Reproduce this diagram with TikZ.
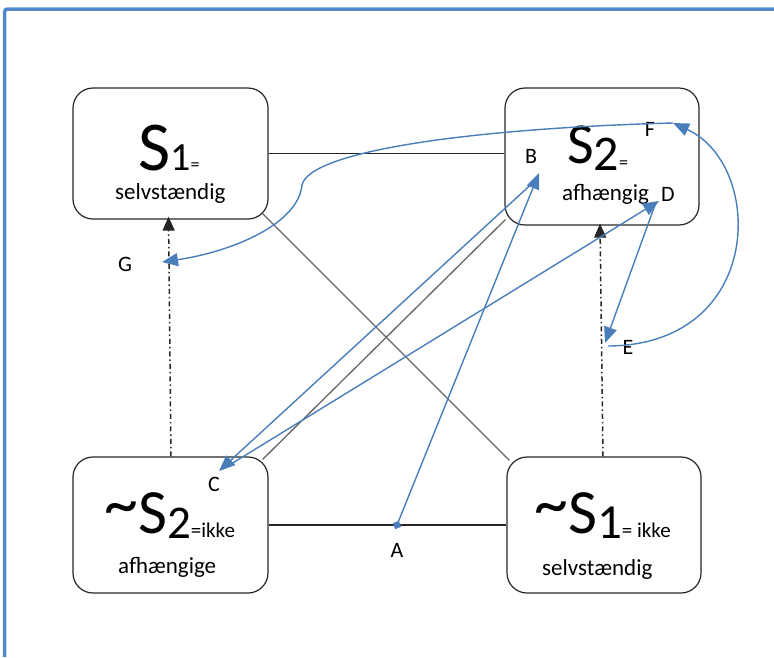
\documentclass[tikz,border=0pt]{standalone}
\usepackage{fontspec}
\setmainfont{Carlito}
\usetikzlibrary{arrows.meta,calc}
\definecolor{frameblue}{RGB}{84,136,205}
\definecolor{arrblue}{RGB}{74,126,187}
\newcommand\fs[1]{\fontsize{#1}{#1}\selectfont}
\begin{document}
\begin{tikzpicture}[x=1pt,y=-1pt,
  box/.style={draw=black!85,line width=1.2pt,rounded corners=20pt,inner sep=0pt},
  txt/.style={inner sep=0pt,anchor=base west,font=\fs{23}},
  ttl/.style={inner sep=0pt,anchor=base west},
  lbl/.style={inner sep=0pt,font=\fs{22}},
  link/.style={draw=black!85,line width=1.2pt},
  glink/.style={draw=black!60,line width=1.3pt},
  ddarrow/.style={draw=black!85,line width=1.5pt,dash pattern=on 5pt off 3pt on 1.5pt off 3pt,-{Triangle[length=14pt,width=12pt]}},
  barrow/.style={draw=arrblue,line width=1.4pt,-{Triangle[length=16pt,width=13pt]}}]
\useasboundingbox (0,0) rectangle (774,657);
% frame
\draw[frameblue,line width=3.5pt,rounded corners=3pt] (4.5,657) -- (4.5,9) -- (774,9);
% boxes
\node[box,minimum width=195pt,minimum height=131pt] (s1) at (170.5,153.5) {};
\node[box,minimum width=194pt,minimum height=137pt] (s2) at (602,156.5) {};
\node[box,minimum width=195pt,minimum height=136pt] (ns2) at (170.5,525) {};
\node[box,minimum width=194pt,minimum height=136pt] (ns1) at (604,525) {};
% titles
\node[ttl] (t1) at (138,170) {{\fs{70}S}{\fs{40}1}{\fs{18}=}};
\node[txt] (d1) at (115,199) {selvstændig};
\node[ttl] (t2) at (567,163) {{\fs{58}S}{\fs{50}\raisebox{-7pt}{2}}{\fs{18}\raisebox{-5pt}{=}}};
\node[txt] (d2) at (562,200) {afhængig};
\node[ttl] (t3) at (104,533) {{\fs{63}\raisebox{7pt}{\fs{68}\char"7E}S}{\fs{47}\raisebox{-5pt}{2}}{\fs{21}\raisebox{-4pt}{=ikke}}};
\node[txt] (d3) at (118,573) {afhængige};
\node[ttl] (t4) at (534,533) {{\fs{63}\raisebox{7pt}{\fs{68}\char"7E}S}{\fs{49}\raisebox{-5pt}{1}}{\fs{21}\raisebox{-4pt}{= ikke}}};
\node[txt] (d4) at (542,575) {selvstændig};
% labels
\node[lbl] (lA) at (397,550) {A};
\node[lbl] (lB) at (531,156) {B};
\node[lbl] (lC) at (214,484) {C};
\node[lbl] (lD) at (668,194) {D};
\node[lbl] (lE) at (628,347) {E};
\node[lbl] (lF) at (650,129) {F};
\node[lbl] (lG) at (125,264) {G};
% arrow points
\coordinate (pA) at (395.3,529.2);
\coordinate (pB) at (539,173);
\coordinate (pBs) at (537,179);
\coordinate (pC) at (219,471);
\coordinate (pCs) at (223,469);
\coordinate (pD) at (659,201);
\coordinate (pDs) at (655,205);
\coordinate (pE) at (605,343);
\coordinate (pEs) at (608,346);
\coordinate (pF) at (673,123);
\coordinate (pG) at (162,262);
% black connectors
\draw[link] (s1.east) -- (s1.east -| s2.west);
\draw[link] (ns2.east) -- (ns1.west);
\draw[glink] ([shift={(-6,-6)}]s1.south east) -- ([shift={(3,4)}]ns1.north west);
\draw[glink] ([shift={(-6,3)}]ns2.north east) -- ([shift={(1,-6)}]s2.south west);
\draw[ddarrow] ([xshift=0.5pt]ns2.north) -- ([xshift=-2pt,yshift=3pt]s1.south);
\draw[ddarrow] ([xshift=-1pt]ns1.north) -- ([xshift=-2pt,yshift=2pt]s2.south);
% blue arrows
\draw[barrow,{Diamond[length=9pt,width=9pt]}-{Triangle[length=16pt,width=13pt]}] (pA) -- (pB);
\draw[barrow] (pBs) -- (pC);
\draw[barrow] (pCs) -- (pD);
\draw[barrow] (pDs) -- (pE);
\draw[barrow] (pEs) .. controls (765,345) and (765,165) .. (pF);
\draw[barrow] (pF) .. controls (480,128) and (310,150) .. (302,185) .. controls (298,225) and (230,252) .. (pG);
\end{tikzpicture}
\end{document}
